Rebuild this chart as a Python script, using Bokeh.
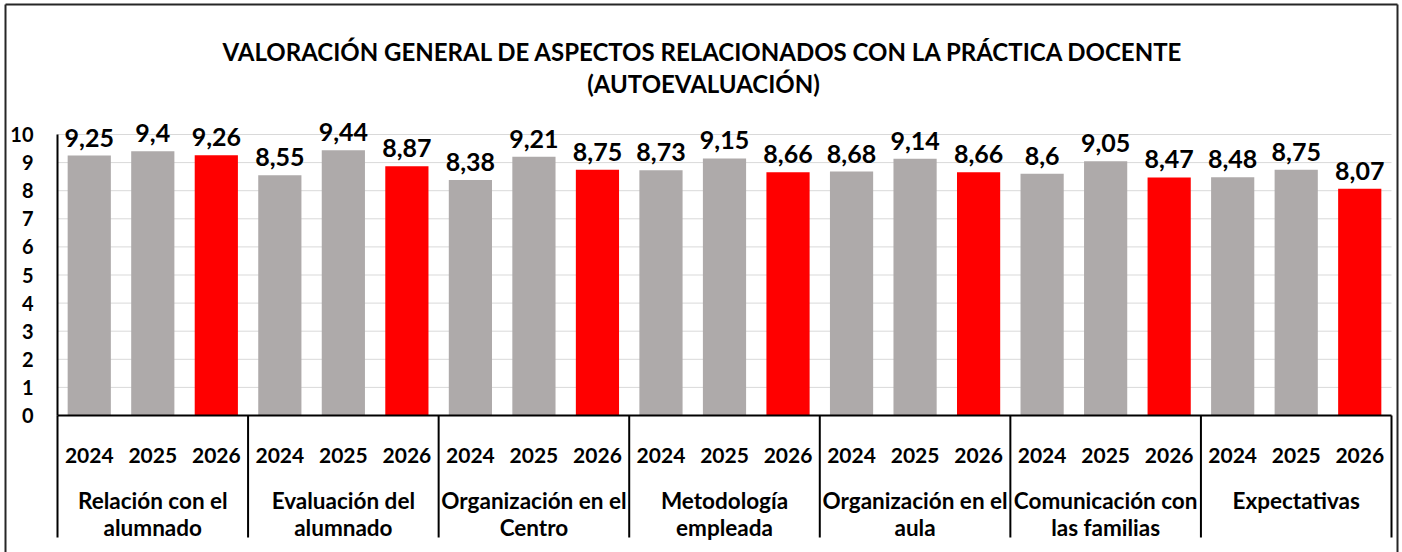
from bokeh.plotting import figure
from bokeh.models import ColumnDataSource, Range1d
from bokeh.core.properties import value
from bokeh.embed import file_html
from bokeh.resources import INLINE

# ---------------- data ----------------
categories = [
    "Relación con el\nalumnado",
    "Evaluación del\nalumnado",
    "Organización en el\nCentro",
    "Metodología\nempleada",
    "Organización en el\naula",
    "Comunicación con\nlas familias",
    "Expectativas",
]
years = ["2024", "2025", "2026"]
v2024 = [9.25, 8.55, 8.38, 8.73, 8.68, 8.60, 8.48]
v2025 = [9.40, 9.44, 9.21, 9.15, 9.14, 9.05, 8.75]
v2026 = [9.26, 8.87, 8.75, 8.66, 8.66, 8.47, 8.07]
year_colors = ["#AEAAAA", "#AEAAAA", "#FF0000"]
y_ticks = list(range(0, 11))
title_lines = [
    "VALORACIÓN GENERAL DE ASPECTOS RELACIONADOS CON LA PRÁCTICA DOCENTE",
    "(AUTOEVALUACIÓN)",
]

FONT = value("Lato")

# ---------------- layout (pixels) ----------------
W, H = 1402, 552
FL, FR, FT, FB = 3, 1399, 2, 552          # frame covers the chart box
AX_L, AX_R = 57, 1391                     # plot area x extent
AX_B, AX_T = 415, 134                     # pixel of y=0 and y=10

n_slots = len(categories) * len(years)
sx = (AX_R - AX_L) / n_slots
sy = (AX_B - AX_T) / 10.0

def px_x(p):
    return (p - AX_L) / sx

def px_y(p):
    return (AX_B - p) / sy

p = figure(
    width=W, height=H,
    x_range=Range1d(px_x(FL), px_x(FR)),
    y_range=Range1d(px_y(FB), px_y(FT)),
    x_axis_location=None, y_axis_location=None,
    toolbar_location=None, output_backend="svg",
    min_border_left=FL, min_border_right=W - FR,
    min_border_top=FT, min_border_bottom=H - FB,
)
p.grid.visible = False
p.outline_line_color = None
p.background_fill_color = "white"
p.border_fill_color = "white"

# outer chart border (left, top, right; bottom is beyond the picture)
bx0, bx1, by0 = px_x(5), px_x(1397), px_y(4)
p.segment(x0=[bx0, bx0, bx1], x1=[bx0, bx1, bx1],
          y0=[px_y(560), by0, by0], y1=[by0, by0, px_y(560)],
          line_color="#262626", line_width=2)

# ---------------- gridlines ----------------
grid_ticks = [t for t in y_ticks if t > 0]
p.segment(x0=[0] * len(grid_ticks), x1=[n_slots] * len(grid_ticks),
          y0=grid_ticks, y1=grid_ticks, line_color="#D9D9D9", line_width=1)

# ---------------- bars ----------------
xs, tops, cols, labels = [], [], [], []
series = [v2024, v2025, v2026]
for g in range(len(categories)):
    for j in range(len(years)):
        xs.append(g * len(years) + j + 0.5)
        v = series[j][g]
        tops.append(v)
        cols.append(year_colors[j])
        labels.append(f"{v:g}".replace(".", ","))

src = ColumnDataSource(dict(x=xs, top=tops, color=cols, label=labels))
p.vbar(x="x", top="top", bottom=0, width=0.68, source=src,
       fill_color="color", line_color=None)

# data labels
p.text(x="x", y="top", text="label", source=src, text_font=FONT,
       text_font_style="bold", text_font_size=value("25px"),
       text_align="center", text_baseline="alphabetic", y_offset=-18,
       text_color="black")

# ---------------- axes lines ----------------
p.segment(x0=[0], x1=[0], y0=[0], y1=[10], line_color="black", line_width=2)
p.segment(x0=[0], x1=[n_slots], y0=[0], y1=[0], line_color="black", line_width=2)
sep_x = [g * len(years) for g in range(len(categories) + 1)]
p.segment(x0=sep_x, x1=sep_x, y0=[0] * len(sep_x),
          y1=[px_y(537)] * len(sep_x), line_color="black", line_width=2)

# y tick labels
p.text(x=[px_x(33)] * len(y_ticks), y=y_ticks, text=[str(t) for t in y_ticks],
       text_font=FONT, text_font_style="bold", text_font_size=value("20px"),
       text_align="right", text_baseline="middle", text_color="black")

# year labels
p.text(x=xs, y=[px_y(455)] * len(xs), text=years * len(categories),
       text_font=FONT, text_font_style="bold", text_font_size=value("21px"),
       text_align="center", text_baseline="alphabetic", text_color="black")

# category labels
cat_x = [g * len(years) + len(years) / 2 for g in range(len(categories))]
line1 = [c.split("\n")[0] for c in categories]
line2 = [c.split("\n")[1] if "\n" in c else "" for c in categories]
p.text(x=cat_x, y=[px_y(500)] * len(cat_x), text=line1,
       text_font=FONT, text_font_style="bold", text_font_size=value("22.5px"),
       text_align="center", text_baseline="alphabetic", text_color="black")
p.text(x=cat_x, y=[px_y(527)] * len(cat_x), text=line2,
       text_font=FONT, text_font_style="bold", text_font_size=value("22.5px"),
       text_align="center", text_baseline="alphabetic", text_color="black")

# title
p.text(x=[px_x(703)] * 2, y=[px_y(51), px_y(83)], text=title_lines,
       text_font=FONT, text_font_style="bold", text_font_size=value("24px"),
       text_align="center", text_baseline="alphabetic", text_color="black")

open("out.html", "w").write(file_html(p, INLINE))
